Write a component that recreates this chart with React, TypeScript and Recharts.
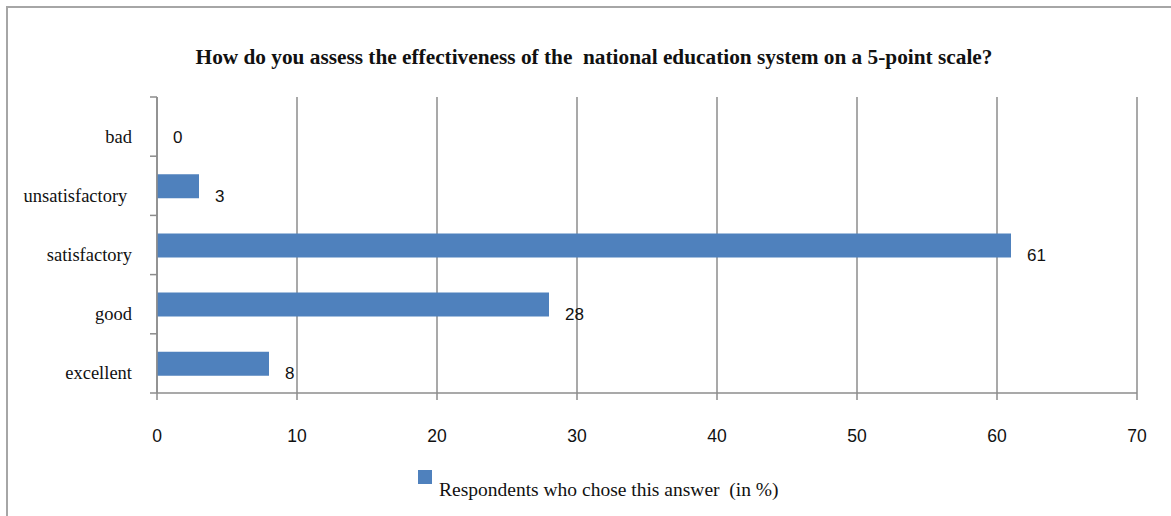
import React from 'react';
import { BarChart, Bar, XAxis, YAxis, CartesianGrid, LabelList, Legend } from 'recharts';

const categories = ['bad', 'unsatisfactory ', 'satisfactory', 'good', 'excellent'];
const respondents = [0, 3, 61, 28, 8];
const xTicks = [0, 10, 20, 30, 40, 50, 60, 70];
const seriesName = 'Respondents who chose this answer  (in %)';
const title = 'How do you assess the effectiveness of the  national education system on a 5-point scale?';

const data = categories.map((c, i) => ({ name: c, value: respondents[i] }));

const W = 1171;
const H = 516;
const TOP = 97;
const BOTTOM = 393;
const LEFT = 157;
const RIGHT = 1137;
const BAR_COLOR = '#4F81BD';
const GRID = '#8c8c8c';
const SERIF = "'Liberation Serif', 'Times New Roman', serif";
const SANS = "'Liberation Sans', Arial, sans-serif";

const YTick = (props: any) => {
  const { y, payload, index } = props;
  const band = (BOTTOM - TOP) / categories.length;
  const ax = LEFT;
  return (
    <g>
      <line x1={ax - 7} x2={ax} y1={y - band / 2} y2={y - band / 2} stroke={GRID} strokeWidth={1.5} />
      {index === categories.length - 1 && (
        <line x1={ax - 7} x2={ax} y1={y + band / 2} y2={y + band / 2} stroke={GRID} strokeWidth={1.5} />
      )}
      <text
        x={ax - 25}
        y={y + 10}
        textAnchor="end"
        dominantBaseline="central"
        fontFamily={SERIF}
        fontSize={18.5}
        fill="#111"
        style={{ whiteSpace: 'pre' }}
      >
        {payload.value}
      </text>
    </g>
  );
};

const ValueLabel = (props: any) => {
  const { x, y, width, height, value } = props;
  return (
    <text
      x={x + width + 16}
      y={y + height / 2 + 10}
      textAnchor="start"
      dominantBaseline="central"
      fontFamily={SANS}
      fontSize={17}
      fill="#111"
    >
      {value}
    </text>
  );
};

const LegendContent = () => (
  <div style={{ position: 'relative', width: 460, height: 40 }}>
    <div style={{ position: 'absolute', left: 0, top: 0, width: 14, height: 14, background: BAR_COLOR }} />
    <div
      style={{
        position: 'absolute',
        left: 21,
        top: 9,
        fontFamily: SERIF,
        fontSize: 19.5,
        color: '#111',
        whiteSpace: 'pre',
        lineHeight: '22px',
      }}
    >
      {seriesName}
    </div>
  </div>
);

export default function App() {
  return (
    <div style={{ position: 'absolute', left: 0, top: 0, width: W, height: H, background: '#fff', overflow: 'hidden' }}>
      <div style={{ position: 'absolute', left: 6, top: 6, width: W - 6, height: 2, background: '#a6a6a6' }} />
      <div style={{ position: 'absolute', left: 6, top: 6, width: 2, height: H - 6, background: '#a6a6a6' }} />
      <div
        style={{
          position: 'absolute',
          left: 0,
          top: 45,
          width: 1188,
          textAlign: 'center',
          fontFamily: SERIF,
          fontWeight: 'bold',
          fontSize: 21.3,
          lineHeight: '24px',
          color: '#111',
          whiteSpace: 'pre',
        }}
      >
        {title}
      </div>
      <BarChart
        width={W}
        height={H}
        data={data}
        layout="vertical"
        margin={{ top: TOP, right: W - RIGHT, bottom: 63, left: 0 }}
      >
        <CartesianGrid horizontal={false} vertical={true} stroke={GRID} strokeWidth={1.5} />
        <XAxis
          type="number"
          domain={[0, 70]}
          ticks={xTicks}
          interval={0}
          height={60}
          axisLine={{ stroke: GRID, strokeWidth: 1.5 }}
          tickLine={{ stroke: GRID, strokeWidth: 1.5 }}
          tickSize={7}
          tickMargin={30}
          tick={{ fontFamily: SANS, fontSize: 17.5, fill: '#111' }}
        />
        <YAxis
          type="category"
          dataKey="name"
          width={LEFT}
          axisLine={{ stroke: GRID, strokeWidth: 1.5 }}
          tickLine={false}
          interval={0}
          tick={<YTick />}
        />
        <Legend
          layout="horizontal"
          align="center"
          verticalAlign="middle"
          wrapperStyle={{ position: 'absolute', left: 418, top: 470, width: 460 }}
          content={<LegendContent />}
        />
        <Bar
          dataKey="value"
          name={seriesName}
          fill={BAR_COLOR}
          barSize={24}
          minPointSize={(v: number) => (v === 0 ? 0.01 : 0)}
          isAnimationActive={false}
        >
          <LabelList dataKey="value" content={<ValueLabel />} />
        </Bar>
      </BarChart>
    </div>
  );
}
